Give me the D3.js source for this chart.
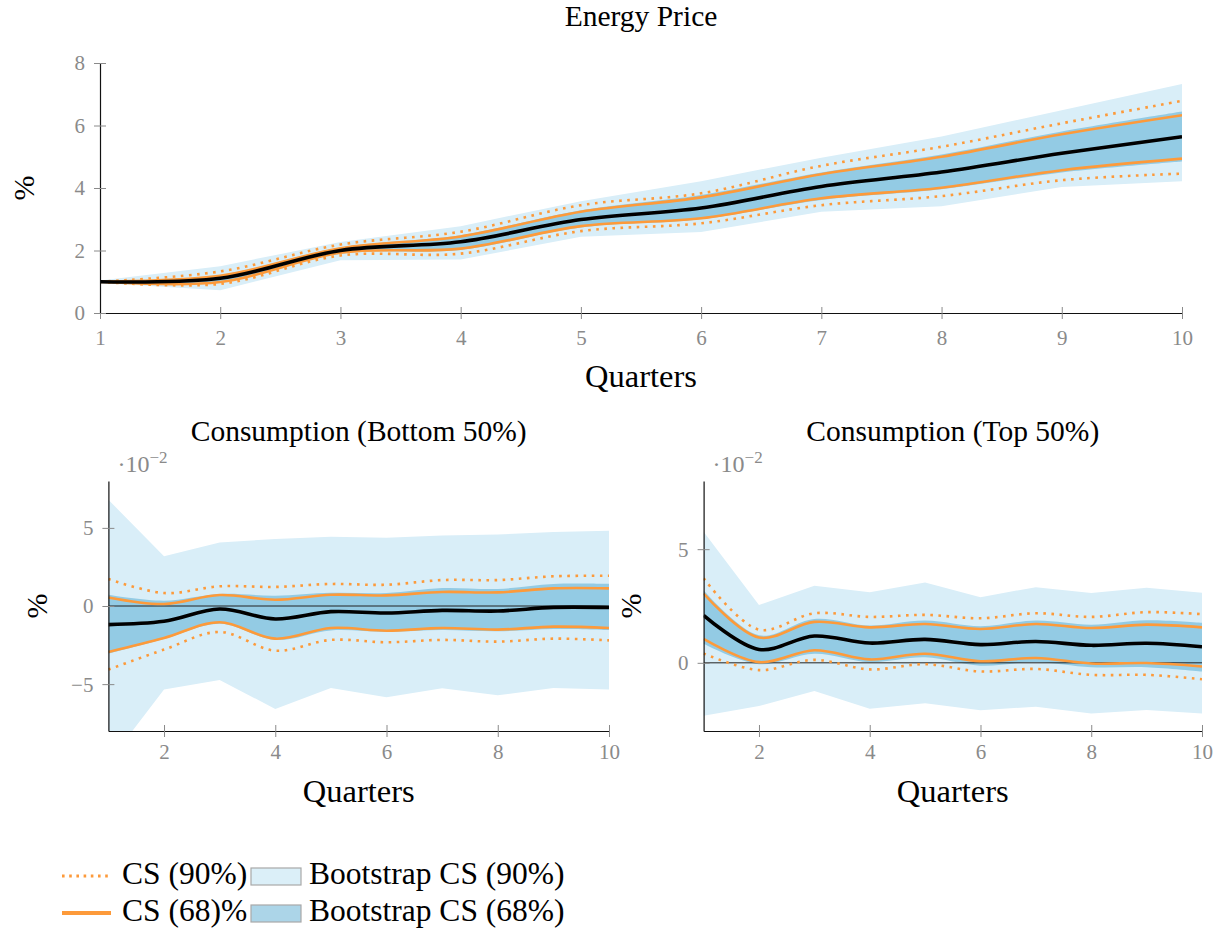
<!DOCTYPE html>
<html>
<head>
<meta charset="utf-8">
<script src="https://cdn.jsdelivr.net/npm/d3@7"></script>
<style>
  body { margin: 0; background: #fff; }
  text { font-family: "Liberation Serif", serif; }
</style>
</head>
<body>
<div id="chart"></div>
<script>
// quarters
const quarters = [1, 2, 3, 4, 5, 6, 7, 8, 9, 10];

// Energy Price (%)
const energyMed = [1.0, 1.11, 2.0, 2.28, 2.99, 3.36, 4.05, 4.51, 5.11, 5.64];
const energyCs68Hi = [1.0, 1.19, 2.07, 2.45, 3.24, 3.7, 4.44, 5.0, 5.72, 6.33];
const energyCs68Lo = [1.0, 0.99, 1.93, 2.06, 2.78, 3.03, 3.67, 4.01, 4.57, 4.94];
const energyCs90Hi = [1.0, 1.33, 2.19, 2.6, 3.45, 3.83, 4.71, 5.32, 6.07, 6.79];
const energyCs90Lo = [1.0, 0.93, 1.84, 1.9, 2.62, 2.87, 3.45, 3.74, 4.25, 4.46];
const energyBs68Hi = [1.01, 1.22, 2.1, 2.49, 3.29, 3.78, 4.5, 5.07, 5.81, 6.45];
const energyBs68Lo = [0.99, 0.97, 1.9, 2.02, 2.74, 3.0, 3.62, 3.96, 4.5, 4.85];
const energyBs90Hi = [1.04, 1.5, 2.27, 2.78, 3.58, 4.22, 4.97, 5.65, 6.49, 7.33];
const energyBs90Lo = [0.96, 0.73, 1.69, 1.71, 2.44, 2.59, 3.24, 3.42, 4.03, 4.22];

// Consumption (Bottom 50%), x10^-2
const botMed = [-1.19, -0.98, -0.19, -0.83, -0.36, -0.45, -0.28, -0.32, -0.09, -0.1];
const botCs68Hi = [0.55, 0.13, 0.7, 0.4, 0.72, 0.68, 0.9, 0.87, 1.13, 1.13];
const botCs68Lo = [-2.94, -2.05, -1.04, -2.09, -1.41, -1.58, -1.41, -1.51, -1.32, -1.41];
const botCs90Hi = [1.73, 0.83, 1.26, 1.22, 1.41, 1.36, 1.66, 1.66, 1.9, 1.94];
const botCs90Lo = [-4.07, -2.79, -1.66, -2.86, -2.17, -2.32, -2.17, -2.28, -2.09, -2.2];
const botBs68Hi = [0.72, 0.34, 0.77, 0.66, 0.85, 0.83, 1.15, 1.09, 1.41, 1.41];
const botBs68Lo = [-3.05, -2.11, -1.13, -2.17, -1.56, -1.66, -1.54, -1.62, -1.47, -1.54];
const botBs90Hi = [6.8, 3.18, 4.07, 4.29, 4.43, 4.37, 4.52, 4.58, 4.73, 4.82];
const botBs90Lo = [-10.0, -5.35, -4.73, -6.59, -5.25, -5.84, -5.27, -5.71, -5.25, -5.35];

// Consumption (Top 50%), x10^-2
const topMed = [2.09, 0.59, 1.18, 0.87, 1.03, 0.8, 0.94, 0.77, 0.86, 0.71];
const topCs68Hi = [3.05, 1.11, 1.8, 1.56, 1.71, 1.49, 1.71, 1.53, 1.68, 1.56];
const topCs68Lo = [1.05, 0.03, 0.55, 0.15, 0.4, 0.07, 0.21, -0.03, -0.01, -0.16];
const topCs90Hi = [3.72, 1.46, 2.18, 2.02, 2.11, 1.96, 2.18, 2.02, 2.23, 2.14];
const topCs90Lo = [0.41, -0.32, 0.13, -0.29, -0.06, -0.38, -0.27, -0.53, -0.53, -0.72];
const topBs68Hi = [3.19, 1.21, 1.93, 1.64, 1.86, 1.61, 1.86, 1.68, 1.87, 1.76];
const topBs68Lo = [0.84, -0.06, 0.4, 0.03, 0.24, -0.13, 0.03, -0.19, -0.19, -0.38];
const topBs90Hi = [5.77, 2.54, 3.39, 3.11, 3.53, 2.89, 3.33, 3.07, 3.3, 3.08];
const topBs90Lo = [-2.33, -1.9, -1.24, -2.02, -1.78, -2.09, -1.93, -2.23, -2.08, -2.23];

const legendLabels = ['CS (90%)', 'Bootstrap CS (90%)', 'CS (68)%', 'Bootstrap CS (68%)'];

const ORANGE = '#fd9a3a',
    LIGHT = '#d9eef8',
    DARK = '#93cbe4',
    GREY = '#8a8a8a',
    DOTS = '2.6 5.5';

const svg = d3.select('#chart').append('svg')
    .attr('width', 1223)
    .attr('height', 933);

let clipId = 0;

function panel(o) {
    const x = d3.scaleLinear().domain([1, 10]).range([o.left, o.right]);
    const y = d3.scaleLinear().domain(o.yDom).range([o.bottom, o.top]);
    const g = svg.append('g');

    const cid = 'clip' + (clipId++);
    g.append('clipPath').attr('id', cid)
        .append('rect')
        .attr('x', o.left).attr('y', o.top)
        .attr('width', o.right - o.left).attr('height', o.bottom - o.top);

    const plot = g.append('g').attr('clip-path', `url(#${cid})`);
    const smooth = d3.curveCatmullRom.alpha(0.5);

    const band = (lo, hi, curve) => d3.area()
        .x((d, i) => x(quarters[i]))
        .y0((d, i) => y(lo[i]))
        .y1((d, i) => y(hi[i]))
        .curve(curve)(quarters);

    const line = (vals) => d3.line()
        .x((d, i) => x(quarters[i]))
        .y((d, i) => y(vals[i]))
        .curve(smooth)(quarters);

    // bootstrap bands
    plot.append('path').attr('d', band(o.bs90Lo, o.bs90Hi, d3.curveLinear)).attr('fill', LIGHT);
    plot.append('path').attr('d', band(o.bs68Lo, o.bs68Hi, smooth)).attr('fill', DARK);

    if (o.zero) {
        plot.append('line')
            .attr('x1', o.left).attr('x2', o.right)
            .attr('y1', y(0)).attr('y2', y(0))
            .attr('stroke', '#222').attr('stroke-width', 1);
    }

    // CS lines
    [o.cs90Hi, o.cs90Lo].forEach(v => {
        plot.append('path').attr('d', line(v))
            .attr('fill', 'none').attr('stroke', ORANGE)
            .attr('stroke-width', 2.6).attr('stroke-dasharray', DOTS);
    });
    [o.cs68Hi, o.cs68Lo].forEach(v => {
        plot.append('path').attr('d', line(v))
            .attr('fill', 'none').attr('stroke', ORANGE)
            .attr('stroke-width', 2.6);
    });
    plot.append('path').attr('d', line(o.med))
        .attr('fill', 'none').attr('stroke', '#000')
        .attr('stroke-width', 3.6);

    // axes
    const xAxis = g.append('g')
        .attr('transform', `translate(0,${o.bottom})`)
        .call(d3.axisBottom(x).tickValues(o.xTicks).tickSizeOuter(0).tickFormat(d3.format('d')));
    const yAxis = g.append('g')
        .attr('transform', `translate(${o.left},0)`)
        .call(d3.axisLeft(y).tickValues(o.yTicks).tickSizeOuter(0)
            .tickFormat(d => d < 0 ? '\u2212' + Math.abs(d) : d));

    [xAxis, yAxis].forEach(a => {
        a.select('.domain').attr('stroke', '#111').attr('stroke-width', 1.2);
        a.selectAll('.tick line').attr('stroke', GREY).attr('stroke-width', 1);
        a.selectAll('.tick text')
            .attr('fill', GREY)
            .style('font-family', '"Liberation Serif", serif')
            .style('font-size', '21px');
    });
    xAxis.selectAll('.tick line').attr('y1', -6).attr('y2', 6);
    xAxis.selectAll('.tick text').attr('y', o.xLabDy).attr('dy', 0);
    yAxis.selectAll('.tick line').attr('x1', -6).attr('x2', 6);
    yAxis.selectAll('.tick text').attr('x', -15).attr('dy', '0.33em');

    // labels
    g.append('text')
        .attr('x', (o.left + o.right) / 2).attr('y', o.titleY)
        .attr('text-anchor', 'middle').style('font-size', '29.5px')
        .text(o.title);
    g.append('text')
        .attr('x', (o.left + o.right) / 2).attr('y', o.xLabY)
        .attr('text-anchor', 'middle').style('font-size', '32.5px')
        .text('Quarters');
    g.append('text')
        .attr('transform', `translate(${o.yLabX},${(o.top + o.bottom) / 2}) rotate(-90)`)
        .attr('text-anchor', 'middle').style('font-size', '30px')
        .text('%');

    if (o.scaleNote) {
        const t = g.append('text')
            .attr('x', o.left + 9).attr('y', o.top - 9)
            .attr('fill', GREY).style('font-size', '24px');
        t.append('tspan').text('\u00b710');
        t.append('tspan').attr('dy', -9).style('font-size', '17px').text('\u22122');
    }
}

panel({
    title: 'Energy Price', left: 100, right: 1182, top: 63, bottom: 313,
    yDom: [0, 8], xTicks: quarters, yTicks: [0, 2, 4, 6, 8],
    titleY: 26, xLabY: 387, yLabX: 34, xLabDy: 32,
    med: energyMed, cs68Hi: energyCs68Hi, cs68Lo: energyCs68Lo,
    cs90Hi: energyCs90Hi, cs90Lo: energyCs90Lo,
    bs68Hi: energyBs68Hi, bs68Lo: energyBs68Lo,
    bs90Hi: energyBs90Hi, bs90Lo: energyBs90Lo
});

panel({
    title: 'Consumption (Bottom 50%)', left: 108.4, right: 609, top: 481, bottom: 731,
    yDom: [-8, 8], xTicks: [2, 4, 6, 8, 10], yTicks: [-5, 0, 5],
    titleY: 441, xLabY: 802, yLabX: 47, xLabDy: 28, zero: true, scaleNote: true,
    med: botMed, cs68Hi: botCs68Hi, cs68Lo: botCs68Lo,
    cs90Hi: botCs90Hi, cs90Lo: botCs90Lo,
    bs68Hi: botBs68Hi, bs68Lo: botBs68Lo,
    bs90Hi: botBs90Hi, bs90Lo: botBs90Lo
});

panel({
    title: 'Consumption (Top 50%)', left: 703.6, right: 1202, top: 481, bottom: 731,
    yDom: [-3, 8], xTicks: [2, 4, 6, 8, 10], yTicks: [0, 5],
    titleY: 441, xLabY: 802, yLabX: 641, xLabDy: 28, zero: true, scaleNote: true,
    med: topMed, cs68Hi: topCs68Hi, cs68Lo: topCs68Lo,
    cs90Hi: topCs90Hi, cs90Lo: topCs90Lo,
    bs68Hi: topBs68Hi, bs68Lo: topBs68Lo,
    bs90Hi: topBs90Hi, bs90Lo: topBs90Lo
});

// legend
const leg = svg.append('g');
const rows = [884, 921];
[0, 1].forEach(r => {
    const cy = rows[r] - 8;
    leg.append('line')
        .attr('x1', 62).attr('x2', 111).attr('y1', cy).attr('y2', cy)
        .attr('stroke', ORANGE)
        .attr('stroke-width', r === 0 ? 3 : 3.8)
        .attr('stroke-dasharray', r === 0 ? '2.6 4.6' : null);
    leg.append('text').attr('x', 122).attr('y', rows[r])
        .style('font-size', '31.5px').text(legendLabels[r * 2]);
    leg.append('rect')
        .attr('x', 251).attr('y', cy - 8).attr('width', 50).attr('height', 17)
        .attr('fill', r === 0 ? '#dbeff8' : '#acd5e8')
        .attr('stroke', '#a8a8a8').attr('stroke-width', 1.2);
    leg.append('text').attr('x', 309).attr('y', rows[r])
        .style('font-size', '31.5px').text(legendLabels[r * 2 + 1]);
});
</script>
</body>
</html>
